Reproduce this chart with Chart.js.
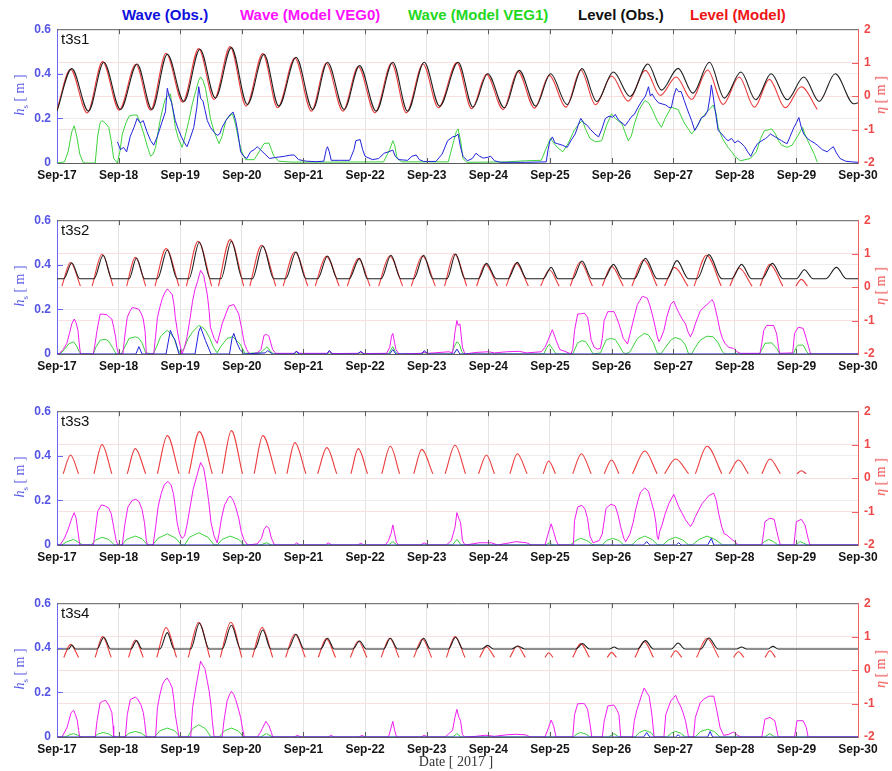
<!DOCTYPE html>
<html>
<head>
<meta charset="utf-8">
<script src="https://cdn.jsdelivr.net/npm/chart.js@4.4.1/dist/chart.umd.min.js"></script>
<style>
  body { margin: 0; background: #fff; width: 892px; height: 771px; position: relative; overflow: hidden; font-family: "Liberation Sans", Arial, sans-serif; }
  .lg { position: absolute; top: 6px; font-size: 15px; font-weight: bold; white-space: nowrap; line-height: 17px; }
  .panel { position: absolute; left: 0; width: 892px; height: 175px; }
  .tag { position: absolute; left: 61px; font-size: 15px; color: #111; line-height: 15px; }
  .ytitle { position: absolute; font-family: "Liberation Serif", "DejaVu Serif", serif; font-size: 14px; white-space: nowrap; transform: translate(-50%, -50%) rotate(-90deg); }
  .ytitle sub { font-size: 9px; }
  .date { position: absolute; top: 754px; left: 356px; width: 200px; text-align: center; font-family: "Liberation Serif", "DejaVu Serif", serif; font-size: 14px; color: #333; }
</style>
</head>
<body>
<div class="lg" style="left:122px;color:#1010dd">Wave (Obs.)</div>
<div class="lg" style="left:240px;color:#ff10ff">Wave (Model VEG0)</div>
<div class="lg" style="left:408px;color:#22d822">Wave (Model VEG1)</div>
<div class="lg" style="left:578px;color:#111">Level (Obs.)</div>
<div class="lg" style="left:690px;color:#ee1515">Level (Model)</div>
<div id="panels"></div>
<div class="date">Date [ 2017 ]</div>
<script>
// days counted from Sep-17 00:00
const dayLabels = ['Sep-17', 'Sep-18', 'Sep-19', 'Sep-20', 'Sep-21', 'Sep-22', 'Sep-23',
  'Sep-24', 'Sep-25', 'Sep-26', 'Sep-27', 'Sep-28', 'Sep-29', 'Sep-30'];
const hsTicks = ['0', '0.2', '0.4', '0.6'];
const stations = ['t3s1', 't3s2', 't3s3', 't3s4'];

// ---------- t3s1 : water level extremes [day, eta] ----------
const levelObs1 = [[0.00,-0.45],[0.24,0.82],[0.51,-0.45],[0.76,1.01],[1.03,-0.40],[1.30,0.96],[1.54,-0.40],[1.79,1.25],
  [2.06,-0.16],[2.32,1.40],[2.57,-0.06],[2.83,1.45],[3.09,-0.25],[3.36,1.25],[3.60,-0.30],[3.88,1.16],[4.15,-0.40],
  [4.39,1.01],[4.66,-0.40],[4.91,0.91],[5.18,-0.45],[5.45,1.01],[5.69,-0.45],[5.96,1.01],[6.21,-0.30],[6.51,1.01],
  [6.75,-0.33],[6.99,0.67],[7.26,-0.35],[7.50,0.77],[7.77,-0.30],[8.01,0.67],[8.28,-0.25],[8.52,0.82],[8.76,-0.16],
  [9.03,0.72],[9.30,-0.01],[9.59,0.96],[9.81,0.18],[10.08,0.83],[10.32,0.09],[10.59,1.01],[10.83,-0.06],[11.10,0.72],
  [11.34,-0.11],[11.59,0.67],[11.85,-0.11],[12.12,0.57],[12.37,-0.16],[12.63,0.67],[12.93,-0.23],[13.00,-0.20]];
const levelModel1 = [[0.00,-0.40],[0.22,0.80],[0.49,-0.50],[0.74,1.03],[1.01,-0.42],[1.28,0.95],[1.52,-0.42],[1.77,1.28],
  [2.04,-0.18],[2.30,1.42],[2.55,-0.10],[2.81,1.48],[3.07,-0.30],[3.34,1.27],[3.58,-0.35],[3.86,1.14],[4.13,-0.45],
  [4.37,0.98],[4.64,-0.45],[4.89,0.88],[5.16,-0.50],[5.43,0.98],[5.67,-0.50],[5.94,0.96],[6.19,-0.35],[6.49,1.00],
  [6.73,-0.38],[6.97,0.65],[7.24,-0.40],[7.48,0.74],[7.75,-0.36],[7.99,0.62],[8.26,-0.33],[8.50,0.78],[8.74,-0.26],
  [9.00,0.60],[9.27,-0.15],[9.55,0.77],[9.79,0.02],[10.05,0.57],[10.30,-0.10],[10.56,0.78],[10.81,-0.25],[11.07,0.57],
  [11.32,-0.33],[11.56,0.50],[11.82,-0.35],[12.08,0.28],[12.34,-0.40]];

// ---------- t3s1 : wave height [day, hs] ----------
const waveObs1 = [[0.98,0.095],[1.03,0.06],[1.08,0.07],[1.13,0.05],[1.19,0.12],[1.25,0.16],[1.30,0.20],[1.35,0.18],[1.40,0.19],
  [1.46,0.14],[1.52,0.10],[1.57,0.08],[1.63,0.12],[1.70,0.18],[1.76,0.23],[1.79,0.335],[1.82,0.30],[1.86,0.27],[1.92,0.19],
  [1.97,0.15],[2.02,0.117],[2.07,0.09],[2.11,0.073],[2.16,0.11],[2.22,0.16],[2.27,0.25],[2.30,0.342],[2.33,0.29],[2.37,0.277],
  [2.40,0.24],[2.44,0.19],[2.49,0.16],[2.55,0.138],[2.60,0.124],[2.64,0.13],[2.68,0.16],[2.74,0.19],[2.79,0.21],[2.82,0.22],
  [2.86,0.228],[2.90,0.19],[2.93,0.146],[2.96,0.09],[2.98,0.05],[3.03,0.03],[3.08,0.02],[3.14,0.05],[3.20,0.06],[3.25,0.073],
  [3.30,0.06],[3.36,0.044],[3.45,0.02],[3.55,0.025],[3.69,0.03],[3.78,0.035],[3.85,0.036],[3.92,0.015],[4.05,0.008],[4.20,0.006],
  [4.33,0.008],[4.37,0.06],[4.39,0.073],[4.42,0.05],[4.45,0.012],[4.60,0.012],[4.75,0.012],[4.82,0.06],[4.85,0.10],[4.92,0.105],
  [4.96,0.06],[5.00,0.03],[5.12,0.015],[5.22,0.02],[5.31,0.044],[5.38,0.05],[5.45,0.058],[5.49,0.03],[5.55,0.015],[5.69,0.012],
  [5.76,0.03],[5.83,0.036],[5.88,0.015],[5.95,0.007],[6.15,0.007],[6.25,0.04],[6.34,0.10],[6.42,0.117],[6.47,0.12],[6.51,0.13],
  [6.55,0.07],[6.59,0.03],[6.66,0.01],[6.74,0.02],[6.80,0.044],[6.86,0.03],[6.92,0.022],[6.98,0.025],[7.04,0.03],[7.10,0.01],
  [7.20,0.003],[7.60,0.003],[7.94,0.005],[7.97,0.06],[8.00,0.10],[8.04,0.117],[8.08,0.09],[8.12,0.087],[8.20,0.08],[8.28,0.07],
  [8.34,0.10],[8.41,0.13],[8.46,0.17],[8.50,0.20],[8.55,0.18],[8.60,0.17],[8.66,0.15],[8.73,0.13],[8.79,0.117],[8.84,0.15],
  [8.90,0.20],[8.96,0.21],[9.02,0.205],[9.06,0.218],[9.12,0.19],[9.17,0.18],[9.22,0.167],[9.28,0.19],[9.33,0.21],[9.37,0.218],
  [9.43,0.25],[9.49,0.277],[9.55,0.30],[9.60,0.342],[9.63,0.30],[9.66,0.31],[9.70,0.29],[9.76,0.27],[9.82,0.265],[9.88,0.26],
  [9.93,0.25],[9.97,0.248],[10.01,0.30],[10.05,0.335],[10.09,0.32],[10.13,0.32],[10.18,0.28],[10.24,0.233],[10.30,0.19],
  [10.35,0.146],[10.40,0.17],[10.46,0.204],[10.51,0.21],[10.56,0.233],[10.60,0.30],[10.62,0.35],[10.65,0.30],[10.68,0.24],
  [10.73,0.146],[10.79,0.13],[10.85,0.11],[10.89,0.10],[10.95,0.11],[11.00,0.09],[11.05,0.10],[11.10,0.09],[11.16,0.073],
  [11.21,0.05],[11.26,0.03],[11.31,0.06],[11.37,0.087],[11.44,0.10],[11.50,0.11],[11.53,0.117],[11.58,0.13],[11.64,0.12],
  [11.70,0.11],[11.76,0.10],[11.82,0.09],[11.85,0.087],[11.90,0.12],[11.96,0.16],[12.00,0.18],[12.04,0.204],[12.08,0.16],
  [12.12,0.13],[12.18,0.11],[12.23,0.10],[12.29,0.09],[12.34,0.08],[12.42,0.06],[12.50,0.05],[12.56,0.065],[12.60,0.073],
  [12.65,0.045],[12.71,0.02],[12.80,0.008],[12.90,0.005],[13.00,0.003]];
const waveVeg1_1 = [[0,0],[0.12,0.005],[0.18,0.05],[0.24,0.14],[0.28,0.167],[0.32,0.12],[0.37,0.04],[0.42,0.005],[0.46,0],
  [0.62,0],[0.66,0.12],[0.70,0.18],[0.73,0.19],[0.78,0.18],[0.84,0.16],[0.88,0.10],[0.92,0.02],[0.98,0],[1.02,0.05],[1.06,0.13],
  [1.12,0.18],[1.17,0.21],[1.24,0.215],[1.30,0.215],[1.35,0.18],[1.41,0.13],[1.47,0.07],[1.52,0.03],[1.56,0.04],[1.60,0.07],
  [1.64,0.14],[1.68,0.20],[1.73,0.26],[1.76,0.29],[1.80,0.30],[1.84,0.31],[1.88,0.24],[1.92,0.16],[1.97,0.11],[2.03,0.07],
  [2.08,0.12],[2.14,0.19],[2.20,0.27],[2.25,0.32],[2.30,0.37],[2.33,0.386],[2.37,0.37],[2.41,0.335],[2.45,0.27],[2.49,0.20],
  [2.55,0.14],[2.63,0.087],[2.68,0.12],[2.74,0.19],[2.80,0.21],[2.85,0.22],[2.90,0.17],[2.95,0.10],[3.00,0.05],[3.06,0.015],
  [3.20,0.015],[3.28,0.05],[3.36,0.087],[3.44,0.09],[3.48,0.06],[3.52,0.03],[3.60,0.008],[3.80,0.004],[4.50,0.004],[5.30,0.005],
  [5.40,0.06],[5.45,0.10],[5.48,0.08],[5.52,0.02],[5.60,0.005],[6.35,0.005],[6.44,0.10],[6.48,0.14],[6.51,0.153],[6.55,0.10],
  [6.59,0.02],[6.65,0.003],[7.30,0.005],[7.60,0.01],[7.86,0.012],[7.93,0.06],[8.01,0.11],[8.06,0.09],[8.12,0.07],[8.21,0.05],
  [8.30,0.09],[8.40,0.15],[8.47,0.175],[8.53,0.19],[8.58,0.15],[8.65,0.11],[8.74,0.095],[8.84,0.10],[8.92,0.17],[9.00,0.22],
  [9.06,0.20],[9.17,0.175],[9.27,0.10],[9.32,0.12],[9.37,0.175],[9.45,0.24],[9.54,0.28],[9.60,0.27],[9.66,0.24],[9.74,0.19],
  [9.81,0.16],[9.87,0.20],[9.97,0.25],[10.08,0.24],[10.18,0.18],[10.30,0.13],[10.38,0.16],[10.46,0.20],[10.55,0.23],
  [10.65,0.26],[10.70,0.22],[10.73,0.16],[10.80,0.11],[10.89,0.07],[10.95,0.05],[11.00,0.03],[11.09,0.01],[11.25,0.02],
  [11.35,0.05],[11.42,0.11],[11.48,0.145],[11.56,0.15],[11.60,0.153],[11.66,0.13],[11.71,0.10],[11.76,0.08],[11.85,0.07],
  [11.93,0.08],[12.02,0.12],[12.10,0.16],[12.15,0.12],[12.22,0.08],[12.29,0.04],[12.34,0.003]];

// ---------- t3s2 .. t3s4 : flooded tides [start, peak day, end, peak eta] ----------
const levelObsFloor2 = 0.25;
const levelObsHumps2 = [[0.11,0.24,0.37,0.72],[0.60,0.75,0.89,0.95],[1.17,1.29,1.42,0.87],[1.63,1.79,1.95,1.11],
  [2.14,2.31,2.49,1.34],[2.66,2.83,3.01,1.37],[3.17,3.34,3.52,1.23],[3.71,3.88,4.04,1.05],[4.23,4.39,4.55,0.93],
  [4.74,4.91,5.04,0.86],[5.26,5.42,5.58,0.95],[5.79,5.95,6.10,0.95],[6.33,6.47,6.62,0.99],[6.84,6.97,7.13,0.71],
  [7.32,7.47,7.62,0.74],[7.89,8.02,8.13,0.59],[8.37,8.52,8.68,0.78],[8.88,9.03,9.18,0.68],[9.37,9.55,9.74,0.86],
  [9.90,10.06,10.25,0.79],[10.39,10.58,10.79,0.97],[10.95,11.11,11.27,0.68],[11.44,11.61,11.78,0.71],
  [12.00,12.13,12.27,0.52],[12.48,12.65,12.81,0.59]];
const levelModelFloor2 = 0.03;
const levelModelHumps2 = [[0.08,0.22,0.38,0.74],[0.57,0.73,0.91,0.98],[1.13,1.27,1.44,0.89],[1.59,1.77,1.98,1.15],
  [2.10,2.29,2.51,1.37],[2.62,2.81,3.03,1.42],[3.13,3.32,3.55,1.25],[3.67,3.86,4.07,1.05],[4.19,4.37,4.58,0.92],
  [4.71,4.89,5.08,0.85],[5.22,5.40,5.61,0.93],[5.75,5.93,6.14,0.93],[6.29,6.45,6.65,0.99],[6.81,6.95,7.15,0.68],
  [7.29,7.45,7.65,0.71],[7.85,7.99,8.15,0.52],[8.33,8.49,8.69,0.75],[8.85,9.00,9.19,0.62],[9.33,9.52,9.74,0.81],
  [9.86,10.02,10.24,0.59],[10.34,10.54,10.78,0.95],[10.92,11.07,11.28,0.57],[11.41,11.57,11.78,0.68],[11.99,12.08,12.18,0.23]];

const levelModelFloor3 = 0.13;
const levelModelHumps3 = [[0.10,0.22,0.35,0.69],[0.60,0.73,0.89,1.00],[1.14,1.27,1.44,0.88],[1.63,1.79,1.98,1.27],
  [2.14,2.31,2.52,1.39],[2.68,2.83,3.01,1.42],[3.20,3.34,3.55,1.27],[3.73,3.86,4.04,1.06],[4.23,4.38,4.54,0.91],
  [4.77,4.89,5.04,0.88],[5.27,5.41,5.56,0.95],[5.79,5.92,6.10,0.86],[6.30,6.46,6.63,0.98],[6.84,6.97,7.10,0.69],
  [7.35,7.47,7.63,0.73],[7.89,7.98,8.09,0.51],[8.37,8.51,8.67,0.73],[8.88,9.00,9.12,0.54],[9.34,9.54,9.74,0.81],
  [9.86,10.04,10.25,0.57],[10.36,10.55,10.79,0.95],[10.91,11.06,11.22,0.54],[11.44,11.57,11.74,0.57],[12.01,12.08,12.16,0.22]];

const levelObsFloor4 = 0.63;
const levelObsHumps4 = [[0.19,0.24,0.30,0.75],[0.65,0.76,0.87,0.98],[1.20,1.29,1.38,0.88],[1.67,1.79,1.90,1.12],
  [2.17,2.31,2.47,1.40],[2.68,2.83,2.98,1.34],[3.21,3.34,3.47,1.20],[3.75,3.88,4.01,1.07],[4.28,4.39,4.50,0.95],
  [4.80,4.91,5.02,0.87],[5.30,5.41,5.53,0.95],[5.84,5.95,6.06,0.95],[6.35,6.47,6.59,0.98],[6.89,6.99,7.08,0.74],
  [7.38,7.48,7.59,0.72],[8.42,8.53,8.64,0.79],[8.97,9.04,9.11,0.69],[9.42,9.55,9.68,0.88],[9.97,10.08,10.19,0.81],
  [10.45,10.58,10.73,0.96],[11.03,11.11,11.19,0.69],[11.54,11.62,11.70,0.71]];
const levelModelFloor4 = 0.38;
const levelModelHumps4 = [[0.11,0.22,0.35,0.77],[0.62,0.74,0.88,1.00],[1.16,1.27,1.40,0.90],[1.62,1.77,1.94,1.27],
  [2.13,2.30,2.48,1.43],[2.65,2.82,3.00,1.43],[3.17,3.33,3.50,1.27],[3.71,3.86,4.03,1.08],[4.24,4.37,4.52,0.94],
  [4.76,4.89,5.03,0.87],[5.26,5.40,5.55,0.95],[5.79,5.93,6.08,0.93],[6.32,6.46,6.62,1.00],[6.86,6.97,7.10,0.70],
  [7.35,7.47,7.60,0.72],[7.92,7.98,8.05,0.52],[8.37,8.50,8.64,0.79],[8.93,9.00,9.08,0.53],[9.38,9.53,9.68,0.85],
  [9.96,10.04,10.14,0.58],[10.38,10.55,10.74,0.95],[10.98,11.06,11.15,0.55],[11.49,11.57,11.66,0.58]];

// ---------- t3s2 waves ----------
const waveObs2 = [[0,0],[1.28,0],[1.33,0.033],[1.38,0],[1.77,0],[1.84,0.106],[1.88,0.08],[1.92,0.06],[1.98,0],[2.24,0],
  [2.30,0.10],[2.33,0.12],[2.37,0.09],[2.41,0.06],[2.50,0],[2.80,0],[2.84,0.07],[2.87,0.092],[2.92,0.05],[2.97,0.02],[3.04,0],
  [3.38,0.005],[3.42,0.015],[3.50,0],[3.85,0],[3.88,0.012],[3.93,0],[4.38,0],[4.42,0.016],[4.47,0],[4.88,0],[4.93,0.012],
  [4.98,0],[5.40,0],[5.45,0.02],[5.50,0],[5.92,0],[5.96,0.015],[6.02,0],[6.44,0],[6.49,0.022],[6.54,0],[13,0]];
const waveVeg0_2 = [[0,0],[0.03,0],[0.10,0.02],[0.16,0.048],[0.20,0.09],[0.24,0.135],[0.28,0.157],[0.31,0.14],[0.34,0.106],
  [0.36,0.05],[0.38,0],[0.59,0],[0.62,0.05],[0.65,0.106],[0.68,0.15],[0.70,0.179],[0.76,0.178],[0.81,0.176],[0.85,0.165],
  [0.89,0.157],[0.92,0.12],[0.95,0.077],[0.97,0.03],[1.00,0],[1.07,0],[1.10,0.08],[1.14,0.164],[1.18,0.19],[1.22,0.208],
  [1.28,0.205],[1.33,0.20],[1.37,0.18],[1.40,0.157],[1.43,0.10],[1.45,0],[1.57,0],[1.60,0.08],[1.63,0.164],[1.67,0.21],
  [1.71,0.25],[1.75,0.275],[1.79,0.292],[1.83,0.28],[1.87,0.266],[1.90,0.22],[1.92,0.164],[1.95,0.11],[1.98,0.062],[2.03,0],
  [2.07,0.03],[2.11,0.077],[2.16,0.16],[2.20,0.237],[2.24,0.29],[2.28,0.324],[2.33,0.375],[2.38,0.353],[2.41,0.31],[2.44,0.266],
  [2.47,0.19],[2.49,0.12],[2.55,0.07],[2.60,0.048],[2.64,0.09],[2.68,0.135],[2.74,0.18],[2.79,0.215],[2.87,0.222],[2.91,0.20],
  [2.95,0.179],[3.00,0.11],[3.04,0.048],[3.08,0.02],[3.12,0],[3.25,0.005],[3.31,0.019],[3.36,0.084],[3.40,0.088],[3.44,0.08],
  [3.50,0.02],[3.55,0.003],[3.85,0.003],[3.89,0.012],[3.94,0.003],[4.38,0.003],[4.42,0.01],[4.46,0.002],[4.88,0.003],
  [4.93,0.008],[4.98,0.002],[5.35,0.003],[5.40,0.03],[5.43,0.08],[5.45,0.092],[5.48,0.05],[5.50,0.02],[5.55,0],[5.90,0.003],
  [5.96,0.008],[6.02,0.003],[6.36,0.01],[6.42,0.005],[6.46,0.10],[6.49,0.15],[6.51,0.128],[6.54,0.135],[6.58,0.03],[6.62,0],
  [6.80,0.007],[7.00,0.01],[7.10,0.005],[7.30,0.01],[7.50,0.012],[7.62,0.005],[7.86,0.01],[7.92,0.03],[7.97,0.062],
  [8.04,0.109],[8.10,0.062],[8.16,0.02],[8.26,0.01],[8.34,0],[8.37,0.02],[8.40,0.106],[8.45,0.179],[8.50,0.18],[8.56,0.183],
  [8.61,0.165],[8.64,0.12],[8.67,0.062],[8.72,0.03],[8.77,0.022],[8.82,0.025],[8.85,0.07],[8.88,0.15],[8.94,0.19],[9.04,0.19],
  [9.08,0.165],[9.12,0.135],[9.16,0.10],[9.19,0.07],[9.26,0.045],[9.30,0.09],[9.34,0.135],[9.38,0.18],[9.42,0.222],[9.46,0.24],
  [9.50,0.259],[9.54,0.255],[9.58,0.25],[9.62,0.22],[9.66,0.179],[9.71,0.12],[9.74,0.08],[9.77,0.055],[9.80,0.07],[9.85,0.106],
  [9.90,0.17],[9.96,0.222],[10.01,0.237],[10.05,0.21],[10.09,0.186],[10.14,0.16],[10.20,0.135],[10.24,0.10],[10.28,0.077],
  [10.32,0.10],[10.36,0.135],[10.40,0.165],[10.44,0.193],[10.50,0.21],[10.55,0.222],[10.60,0.235],[10.63,0.244],[10.66,0.23],
  [10.68,0.208],[10.72,0.16],[10.76,0.106],[10.80,0.07],[10.84,0.048],[10.90,0.03],[10.98,0.025],[11.04,0.01],[11.09,0.003],
  [11.41,0.003],[11.44,0.05],[11.47,0.106],[11.52,0.128],[11.63,0.128],[11.68,0.09],[11.71,0.03],[11.73,0.003],[11.94,0.005],
  [11.97,0.092],[12.03,0.12],[12.11,0.115],[12.16,0.07],[12.20,0.03],[12.23,0],[13,0]];
const waveVeg1_2 = [[0,0],[0.05,0],[0.12,0.02],[0.19,0.045],[0.27,0.055],[0.32,0.035],[0.36,0.01],[0.40,0],[0.59,0],
  [0.63,0.03],[0.70,0.062],[0.78,0.066],[0.83,0.06],[0.90,0.03],[0.96,0],[1.04,0],[1.08,0.02],[1.17,0.07],[1.27,0.077],
  [1.33,0.07],[1.38,0.05],[1.44,0.005],[1.56,0],[1.62,0.035],[1.68,0.077],[1.74,0.095],[1.79,0.106],[1.85,0.09],[1.90,0.07],
  [1.96,0.02],[2.00,0.005],[2.06,0.025],[2.13,0.07],[2.20,0.099],[2.30,0.128],[2.36,0.12],[2.41,0.106],[2.48,0.07],[2.54,0.03],
  [2.60,0.005],[2.65,0.03],[2.76,0.07],[2.85,0.077],[2.92,0.06],[2.97,0.045],[3.05,0.003],[3.30,0.005],[3.36,0.02],[3.41,0.033],
  [3.47,0.01],[3.52,0],[5.38,0],[5.42,0.02],[5.45,0.033],[5.49,0.01],[5.53,0],[6.40,0],[6.46,0.04],[6.49,0.055],[6.53,0.045],
  [6.57,0.01],[6.60,0],[7.90,0],[7.95,0.03],[7.99,0.044],[8.05,0.02],[8.10,0],[8.37,0],[8.45,0.05],[8.52,0.06],[8.58,0.055],
  [8.65,0.025],[8.70,0],[8.82,0.005],[8.91,0.062],[8.98,0.07],[9.06,0.065],[9.12,0.04],[9.18,0.01],[9.23,0],[9.30,0.01],
  [9.42,0.07],[9.53,0.092],[9.60,0.085],[9.68,0.05],[9.74,0.005],[9.80,0],[9.85,0.02],[9.96,0.062],[10.03,0.074],[10.13,0.065],
  [10.20,0.04],[10.25,0],[10.30,0],[10.36,0.03],[10.44,0.062],[10.55,0.08],[10.65,0.077],[10.73,0.05],[10.80,0.01],[10.84,0],
  [11.40,0],[11.46,0.03],[11.49,0.048],[11.60,0.05],[11.68,0.025],[11.73,0],[11.95,0],[12.00,0.03],[12.03,0.04],[12.11,0.04],
  [12.17,0.01],[12.20,0],[13,0]];

// ---------- t3s3 waves ----------
const waveObs3 = [[0,0],[9.52,0],[9.57,0.015],[9.62,0],[10.05,0],[10.09,0.01],[10.13,0],[10.56,0],[10.62,0.03],[10.66,0],[13,0]];
const waveVeg0_3 = [[0,0],[0.05,0],[0.12,0.03],[0.18,0.07],[0.24,0.12],[0.28,0.145],[0.31,0.12],[0.34,0.06],[0.37,0],[0.59,0],
  [0.62,0.06],[0.66,0.15],[0.72,0.18],[0.78,0.175],[0.84,0.165],[0.88,0.14],[0.92,0.08],[0.96,0.02],[0.99,0],[1.06,0],
  [1.10,0.09],[1.15,0.17],[1.22,0.20],[1.28,0.205],[1.33,0.195],[1.38,0.16],[1.42,0.10],[1.45,0.02],[1.47,0],[1.56,0],
  [1.60,0.08],[1.64,0.17],[1.69,0.23],[1.74,0.27],[1.80,0.285],[1.85,0.27],[1.89,0.23],[1.92,0.17],[1.95,0.10],[1.99,0.05],
  [2.03,0.03],[2.07,0.04],[2.11,0.09],[2.16,0.17],[2.21,0.25],[2.27,0.31],[2.33,0.37],[2.38,0.345],[2.42,0.28],[2.46,0.20],
  [2.50,0.10],[2.55,0.04],[2.60,0.01],[2.63,0.05],[2.67,0.12],[2.72,0.18],[2.78,0.21],[2.81,0.22],[2.86,0.20],[2.90,0.17],
  [2.95,0.12],[2.99,0.06],[3.04,0.02],[3.10,0],[3.25,0.005],[3.32,0.03],[3.36,0.07],[3.40,0.085],[3.44,0.075],[3.48,0.03],
  [3.53,0],[3.85,0],[3.89,0.01],[3.94,0],[4.36,0],[4.40,0.01],[4.46,0],[4.88,0],[4.93,0.008],[4.98,0],[5.33,0],[5.38,0.02],
  [5.42,0.05],[5.45,0.09],[5.48,0.05],[5.51,0.01],[5.55,0],[5.90,0],[5.96,0.01],[6.02,0],[6.32,0],[6.40,0.02],[6.46,0.08],
  [6.49,0.145],[6.52,0.12],[6.55,0.10],[6.58,0.02],[6.62,0],[6.75,0.005],[6.85,0.01],[7.05,0.01],[7.15,0],[7.35,0.01],
  [7.45,0.015],[7.62,0.01],[7.70,0],[7.92,0],[7.97,0.05],[8.02,0.095],[8.06,0.06],[8.10,0.02],[8.14,0],[8.38,0],[8.40,0.11],
  [8.45,0.17],[8.52,0.178],[8.57,0.16],[8.61,0.12],[8.65,0.04],[8.70,0.01],[8.80,0.02],[8.85,0.05],[8.91,0.164],[8.99,0.183],
  [9.06,0.175],[9.11,0.13],[9.15,0.08],[9.20,0.03],[9.23,0.015],[9.30,0.05],[9.35,0.10],[9.39,0.157],[9.43,0.20],[9.47,0.237],
  [9.54,0.256],[9.60,0.24],[9.65,0.19],[9.69,0.15],[9.72,0.10],[9.74,0.04],[9.76,0.025],[9.78,0.06],[9.82,0.09],[9.87,0.14],
  [9.93,0.186],[10.01,0.227],[10.05,0.20],[10.09,0.171],[10.15,0.14],[10.20,0.113],[10.28,0.083],[10.32,0.10],[10.36,0.127],
  [10.42,0.16],[10.47,0.186],[10.53,0.205],[10.58,0.222],[10.66,0.232],[10.70,0.20],[10.74,0.14],[10.79,0.08],[10.83,0.05],
  [10.87,0.045],[10.93,0.03],[11.00,0.015],[11.06,0],[11.44,0],[11.47,0.06],[11.49,0.105],[11.57,0.12],[11.64,0.115],
  [11.70,0.04],[11.74,0],[11.96,0],[12.00,0.105],[12.08,0.115],[12.14,0.09],[12.19,0.03],[12.22,0],[13,0]];
const waveVeg1_3 = [[0,0],[0.08,0],[0.16,0.015],[0.27,0.025],[0.36,0.01],[0.42,0],[0.55,0],[0.63,0.022],[0.73,0.035],
  [0.84,0.025],[0.93,0],[1.05,0],[1.13,0.025],[1.27,0.04],[1.38,0.028],[1.47,0],[1.55,0],[1.64,0.03],[1.79,0.05],[1.93,0.03],
  [2.02,0],[2.07,0],[2.15,0.035],[2.30,0.055],[2.45,0.035],[2.55,0],[2.60,0],[2.68,0.025],[2.81,0.04],[2.95,0.025],[3.04,0],
  [3.30,0],[3.40,0.01],[3.48,0],[5.38,0],[5.45,0.015],[5.52,0],[6.42,0],[6.49,0.025],[6.56,0],[7.93,0],[7.99,0.01],[8.05,0],
  [8.33,0],[8.42,0.02],[8.50,0.03],[8.60,0.02],[8.70,0],[8.85,0],[8.92,0.02],[9.02,0.03],[9.12,0.02],[9.20,0],[9.33,0],
  [9.42,0.025],[9.54,0.04],[9.66,0.025],[9.75,0],[9.83,0],[9.92,0.022],[10.04,0.035],[10.16,0.022],[10.25,0],[10.31,0],
  [10.42,0.025],[10.55,0.04],[10.68,0.025],[10.80,0],[11.42,0],[11.48,0.015],[11.55,0.025],[11.63,0.015],[11.70,0],[11.98,0],
  [12.03,0.01],[12.06,0.015],[12.12,0.008],[12.18,0],[13,0]];

// ---------- t3s4 waves ----------
const waveObs4 = [[0,0],[9.52,0],[9.57,0.02],[9.62,0],[10.04,0],[10.08,0.01],[10.12,0],[10.56,0],[10.60,0.025],[10.64,0],[13,0]];
const waveVeg0_4 = [[0,0],[0.08,0],[0.16,0.04],[0.20,0.08],[0.23,0.11],[0.27,0.12],[0.30,0.10],[0.33,0.073],[0.35,0.03],
  [0.37,0],[0.62,0],[0.65,0.073],[0.70,0.154],[0.74,0.16],[0.79,0.164],[0.84,0.143],[0.89,0.11],[0.91,0.05],[0.92,0],[1.11,0],
  [1.14,0.10],[1.19,0.168],[1.27,0.179],[1.31,0.17],[1.36,0.146],[1.40,0.11],[1.42,0.073],[1.45,0],[1.60,0],[1.63,0.132],
  [1.67,0.19],[1.71,0.234],[1.75,0.255],[1.79,0.264],[1.83,0.245],[1.87,0.22],[1.90,0.16],[1.92,0.10],[1.95,0.05],[1.98,0],
  [2.17,0],[2.20,0.132],[2.24,0.20],[2.28,0.264],[2.33,0.34],[2.37,0.32],[2.40,0.307],[2.44,0.25],[2.47,0.205],[2.50,0.14],
  [2.52,0.073],[2.55,0],[2.68,0],[2.71,0.073],[2.76,0.161],[2.80,0.19],[2.83,0.205],[2.87,0.19],[2.90,0.168],[2.94,0.13],
  [2.98,0.088],[3.01,0.04],[3.04,0],[3.25,0],[3.30,0.02],[3.33,0.037],[3.39,0.07],[3.44,0.05],[3.48,0.02],[3.50,0],[3.85,0],
  [3.90,0.007],[3.96,0],[4.40,0],[4.45,0.007],[4.50,0],[4.90,0],[4.95,0.007],[5.00,0],[5.38,0],[5.42,0.04],[5.45,0.07],
  [5.48,0.03],[5.51,0],[5.90,0],[5.96,0.007],[6.02,0],[6.30,0],[6.36,0.015],[6.42,0.03],[6.46,0.09],[6.49,0.124],[6.52,0.09],
  [6.55,0.073],[6.58,0.01],[6.62,0],[6.80,0.003],[6.95,0.008],[7.10,0.003],[7.30,0.01],[7.45,0.012],[7.60,0.01],[7.68,0],
  [7.92,0],[7.98,0.044],[8.02,0.076],[8.06,0.05],[8.10,0],[8.37,0],[8.40,0.10],[8.45,0.149],[8.52,0.15],[8.56,0.149],
  [8.61,0.125],[8.65,0.06],[8.68,0],[8.85,0],[8.88,0.07],[8.94,0.139],[9.00,0.142],[9.04,0.143],[9.09,0.12],[9.12,0.10],
  [9.15,0],[9.34,0],[9.37,0.073],[9.41,0.12],[9.45,0.154],[9.49,0.19],[9.53,0.22],[9.57,0.20],[9.61,0.183],[9.64,0.13],
  [9.66,0.088],[9.69,0],[9.85,0],[9.88,0.10],[9.96,0.161],[10.04,0.187],[10.08,0.16],[10.12,0.139],[10.16,0.11],[10.20,0.073],
  [10.25,0],[10.33,0],[10.36,0.088],[10.44,0.154],[10.50,0.17],[10.58,0.183],[10.66,0.183],[10.71,0.117],[10.76,0.044],
  [10.82,0.007],[10.90,0.012],[10.98,0.022],[11.05,0.007],[11.10,0],[11.44,0],[11.49,0.08],[11.57,0.088],[11.65,0.073],
  [11.70,0.007],[11.72,0],[11.97,0],[12.01,0.073],[12.11,0.073],[12.16,0.044],[12.19,0],[13,0]];
const waveVeg1_4 = [[0,0],[0.14,0],[0.20,0.01],[0.27,0.015],[0.34,0.008],[0.40,0],[0.60,0],[0.67,0.014],[0.75,0.02],
  [0.84,0.014],[0.92,0],[1.10,0],[1.17,0.017],[1.27,0.025],[1.37,0.017],[1.45,0],[1.58,0],[1.67,0.028],[1.79,0.04],[1.91,0.028],
  [2.00,0],[2.12,0],[2.20,0.037],[2.30,0.055],[2.41,0.037],[2.50,0],[2.63,0],[2.72,0.028],[2.83,0.04],[2.94,0.028],[3.03,0],
  [3.30,0],[3.40,0.015],[3.50,0],[6.42,0],[6.49,0.015],[6.56,0],[8.38,0],[8.44,0.014],[8.50,0.02],[8.58,0.014],[8.65,0],
  [8.95,0],[9.04,0.015],[9.12,0],[9.38,0],[9.45,0.02],[9.54,0.03],[9.64,0.02],[9.70,0],[9.90,0],[9.97,0.017],[10.04,0.025],
  [10.12,0.017],[10.20,0],[10.36,0],[10.44,0.024],[10.56,0.035],[10.67,0.024],[10.76,0],[11.48,0],[11.57,0.015],[11.65,0],[13,0]];

// plot area tops of the four panels (px) and their height
const panelTops = [26, 217, 408, 600];
const plotH = 137;

const C = { obs: '#2222dd', veg0: '#f01cf0', veg1: '#3dd23d', lvlObs: '#1e1e1e', lvlMod: '#ec3b3b' };

function pts(pairs) { return pairs.map(([x, y]) => ({ x, y })); }

// flooded humps: joined along the floor, or broken between humps
function humps(list, floor, joined) {
  const out = [];
  if (joined) out.push({ x: 0, y: floor });
  list.forEach(([s, p, e, v]) => {
    out.push({ x: s, y: floor }, { x: p, y: v }, { x: e, y: floor });
    if (!joined) out.push({ x: e, y: null });
  });
  if (joined) out.push({ x: 13, y: floor });
  return out;
}

function wave(data, color) {
  return { data, borderColor: color, yAxisID: 'yh', borderWidth: 1, tension: 0 };
}
function level(data, color) {
  return { data, borderColor: color, yAxisID: 'ye', borderWidth: 1.1, cubicInterpolationMode: 'monotone', spanGaps: false };
}

const panelSets = [
  [wave(pts(waveObs1), C.obs), level(pts(levelObs1), C.lvlObs), level(pts(levelModel1), C.lvlMod), wave(pts(waveVeg1_1), C.veg1)],
  [wave(pts(waveObs2), C.obs), level(humps(levelObsHumps2, levelObsFloor2, true), C.lvlObs),
   level(humps(levelModelHumps2, levelModelFloor2, false), C.lvlMod), wave(pts(waveVeg0_2), C.veg0), wave(pts(waveVeg1_2), C.veg1)],
  [wave(pts(waveObs3), C.obs), level(humps(levelModelHumps3, levelModelFloor3, false), C.lvlMod),
   wave(pts(waveVeg0_3), C.veg0), wave(pts(waveVeg1_3), C.veg1)],
  [wave(pts(waveObs4), C.obs), level(humps(levelObsHumps4, levelObsFloor4, true), C.lvlObs),
   level(humps(levelModelHumps4, levelModelFloor4, false), C.lvlMod), wave(pts(waveVeg0_4), C.veg0), wave(pts(waveVeg1_4), C.veg1)]
];

// box top edge and inward tick marks
const frame = {
  id: 'frame',
  afterDraw(chart) {
    const { ctx, chartArea: a, scales } = chart;
    ctx.save();
    ctx.lineWidth = 1;
    ctx.strokeStyle = '#5c5c5c';
    ctx.beginPath();
    ctx.moveTo(a.left, a.top + 0.5); ctx.lineTo(a.right, a.top + 0.5);
    for (let d = 1; d < 13; d++) {
      const x = Math.round(scales.x.getPixelForValue(d)) + 0.5;
      ctx.moveTo(x, a.top); ctx.lineTo(x, a.top + 5);
      ctx.moveTo(x, a.bottom); ctx.lineTo(x, a.bottom - 5);
    }
    ctx.stroke();
    ctx.strokeStyle = '#6a6af0';
    ctx.beginPath();
    [0.2, 0.4].forEach(v => {
      const y = Math.round(scales.yh.getPixelForValue(v)) + 0.5;
      ctx.moveTo(a.left, y); ctx.lineTo(a.left + 6, y);
    });
    ctx.stroke();
    ctx.strokeStyle = '#f06060';
    ctx.beginPath();
    [-1, 0, 1].forEach(v => {
      const y = Math.round(scales.ye.getPixelForValue(v)) + 0.5;
      ctx.moveTo(a.right, y); ctx.lineTo(a.right - 6, y);
    });
    ctx.stroke();
    ctx.restore();
  }
};

const tickFont = { family: '"Liberation Sans", Arial, sans-serif', size: 12, weight: 'bold' };
const wrap = document.getElementById('panels');

panelSets.forEach((sets, i) => {
  const top = panelTops[i];
  const box = document.createElement('div');
  box.className = 'panel';
  box.style.top = (top - 10) + 'px';
  const cv = document.createElement('canvas');
  cv.width = 892; cv.height = 175;
  box.appendChild(cv);
  wrap.appendChild(box);

  const tag = document.createElement('div');
  tag.className = 'tag'; tag.style.top = (top + 5) + 'px'; tag.textContent = stations[i];
  wrap.appendChild(tag);
  const lt = document.createElement('div');
  lt.className = 'ytitle'; lt.style.left = '21px'; lt.style.top = (top + plotH / 2) + 'px'; lt.style.color = '#5858e8';
  lt.innerHTML = '<i>h</i><sub>s</sub> [ m ]';
  wrap.appendChild(lt);
  const rt = document.createElement('div');
  rt.className = 'ytitle'; rt.style.left = '881px'; rt.style.top = (top + plotH / 2) + 'px'; rt.style.color = '#ee4848';
  rt.innerHTML = '<i>η</i> [ m ]';
  wrap.appendChild(rt);

  new Chart(cv, {
    type: 'line',
    data: { datasets: sets },
    options: {
      responsive: false,
      animation: false,
      devicePixelRatio: 1,
      layout: { padding: { top: 10 } },
      plugins: { legend: { display: false }, tooltip: { enabled: false } },
      elements: { point: { radius: 0 } },
      scales: {
        x: {
          type: 'linear', min: 0, max: 13,
          afterFit: s => { s.height = 28; },
          grid: { drawTicks: false, color: c => (c.tick.value === 0 || c.tick.value === 13) ? 'rgba(0,0,0,0)' : '#e3e3e3' },
          border: { color: '#5c5c5c' },
          ticks: { stepSize: 1, autoSkip: false, maxRotation: 0, padding: 5, color: '#151515', font: tickFont,
            callback: v => dayLabels[v] }
        },
        yh: {
          position: 'left', min: 0, max: 0.6,
          afterFit: s => { s.width = 57; },
          grid: { drawTicks: false, color: c => (c.tick.value > 0.05 && c.tick.value < 0.55) ? '#ececec' : 'rgba(0,0,0,0)' },
          border: { color: '#6a6af0' },
          ticks: { stepSize: 0.2, padding: 6, color: '#5454e6', font: tickFont,
            callback: v => hsTicks[Math.round(v / 0.2)] }
        },
        ye: {
          position: 'right', min: -2, max: 2,
          afterFit: s => { s.width = 34; },
          grid: { drawTicks: false, color: c => Math.abs(c.tick.value) < 1.5 ? '#f9e0e0' : 'rgba(0,0,0,0)' },
          border: { color: '#f06060' },
          ticks: { stepSize: 1, padding: 6, color: '#f04848', font: tickFont }
        }
      }
    },
    plugins: [frame]
  });
});
</script>
</body>
</html>
